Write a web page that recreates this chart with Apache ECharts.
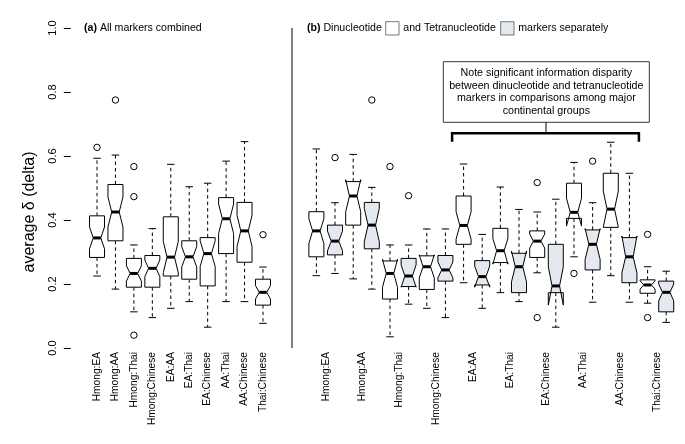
<!DOCTYPE html>
<html><head><meta charset="utf-8">
<script src="https://cdn.jsdelivr.net/npm/echarts@6/dist/echarts.min.js"></script>
<style>html,body{margin:0;padding:0;background:#fff}#c{width:685px;height:444px}</style>
</head><body><div id="c"></div>
<script>
// ---------------- DATA ----------------
const categories = ['Hmong:EA','Hmong:AA','Hmong:Thai','Hmong:Chinese','EA:AA','EA:Thai','EA:Chinese','AA:Thai','AA:Chinese','Thai:Chinese'];
const yTicks = [0, 0.2, 0.4, 0.6, 0.8, 1.0];
// stats per category: [min, q1, median, q3, max, notchLow, notchHigh]
const allStats = [
  [0.225, 0.283, 0.344, 0.413, 0.593, 0.310, 0.378],
  [0.184, 0.335, 0.425, 0.511, 0.603, 0.378, 0.472],
  [0.113, 0.190, 0.233, 0.280, 0.322, 0.209, 0.257],
  [0.095, 0.190, 0.249, 0.289, 0.373, 0.223, 0.275],
  [0.124, 0.225, 0.284, 0.410, 0.574, 0.235, 0.333],
  [0.145, 0.215, 0.285, 0.335, 0.504, 0.253, 0.317],
  [0.065, 0.194, 0.295, 0.345, 0.515, 0.255, 0.335],
  [0.145, 0.295, 0.404, 0.470, 0.584, 0.358, 0.450],
  [0.145, 0.268, 0.366, 0.455, 0.645, 0.317, 0.415],
  [0.077, 0.134, 0.174, 0.215, 0.253, 0.153, 0.195]
];
const allOutliers = [[0.627],[0.775],[0.567,0.473,0.040],[],[],[],[],[],[],[0.354]];

const diStats = [
  [0.226, 0.285, 0.366, 0.426, 0.622, 0.326, 0.404],
  [0.216, 0.384, 0.475, 0.520, 0.605, 0.426, 0.526],
  [0.035, 0.153, 0.233, 0.272, 0.322, 0.190, 0.277],
  [0.124, 0.183, 0.254, 0.288, 0.372, 0.219, 0.291],
  [0.204, 0.324, 0.383, 0.475, 0.575, 0.340, 0.426],
  [0.173, 0.267, 0.304, 0.374, 0.503, 0.262, 0.342],
  [0.235, 0.283, 0.334, 0.366, 0.425, 0.312, 0.356],
  [0.285, 0.405, 0.424, 0.515, 0.580, 0.381, 0.468],
  [0.226, 0.377, 0.434, 0.546, 0.643, 0.378, 0.490],
  [0.140, 0.171, 0.197, 0.213, 0.254, 0.184, 0.210]
];
const diOutliers = [[],[],[0.567],[],[],[],[0.517,0.095],[0.233],[],[0.355,0.095]];

const tetraStats = [
  [0.233, 0.291, 0.334, 0.384, 0.454, 0.304, 0.365],
  [0.184, 0.310, 0.384, 0.455, 0.502, 0.332, 0.436],
  [0.137, 0.192, 0.225, 0.280, 0.322, 0.190, 0.260],
  [0.095, 0.209, 0.244, 0.289, 0.372, 0.219, 0.269],
  [0.124, 0.197, 0.223, 0.273, 0.355, 0.190, 0.256],
  [0.145, 0.173, 0.254, 0.296, 0.433, 0.207, 0.303],
  [0.065, 0.173, 0.194, 0.324, 0.465, 0.134, 0.254],
  [0.143, 0.244, 0.324, 0.369, 0.454, 0.277, 0.373],
  [0.143, 0.204, 0.285, 0.345, 0.546, 0.235, 0.350],
  [0.080, 0.113, 0.174, 0.209, 0.240, 0.147, 0.200]
];
const tetraOutliers = [[0.595],[0.775],[0.476],[],[],[],[],[0.584],[],[]];

const noteText = 'Note significant information disparity\nbetween dinucleotide and tetranucleotide\nmarkers in comparisons among major\ncontinental groups';
const yTitle = 'average δ (delta)';

// ---------------- BUILD ----------------
const FONT = '"Liberation Sans", Arial, sans-serif';
const TETRA_FILL = '#e3e9ee';
const HALF_W = 7.5;

function toBoxData(stats){ return stats.map((s,i)=>[i].concat(s)); }
function toOutData(outs){ const d=[]; outs.forEach((arr,i)=>arr.forEach(v=>d.push([i,v]))); return d; }

function boxRender(offFrac, fill){
  return function(params, api){
    const cat = api.value(0);
    const band = api.size([1,0])[0];
    const cx = api.coord([cat, api.value(3)])[0] + offFrac*band;
    const Y = v => api.coord([cat, v])[1];
    const mn=api.value(1), q1=api.value(2), md=api.value(3), q3=api.value(4), mx=api.value(5), nlo=api.value(6), nhi=api.value(7);
    const w = HALF_W, nf = 0.5, sw = HALF_W*0.5;
    const dash = {stroke:'#000', lineWidth:1, lineDash:[3.5,3]};
    const solid = {stroke:'#000', lineWidth:1};
    const pts = [
      [cx-w,Y(q1)],[cx+w,Y(q1)],[cx+w,Y(nlo)],[cx+nf*w,Y(md)],[cx+w,Y(nhi)],
      [cx+w,Y(q3)],[cx-w,Y(q3)],[cx-w,Y(nhi)],[cx-nf*w,Y(md)],[cx-w,Y(nlo)]
    ];
    return {type:'group', children:[
      {type:'line', shape:{x1:cx,y1:Y(q1),x2:cx,y2:Y(mn)}, style:dash},
      {type:'line', shape:{x1:cx,y1:Y(q3),x2:cx,y2:Y(mx)}, style:dash},
      {type:'line', shape:{x1:cx-sw,y1:Y(mn),x2:cx+sw,y2:Y(mn)}, style:solid},
      {type:'line', shape:{x1:cx-sw,y1:Y(mx),x2:cx+sw,y2:Y(mx)}, style:solid},
      {type:'polygon', shape:{points:pts}, style:{fill:fill, stroke:'#000', lineWidth:1}},
      {type:'line', shape:{x1:cx-nf*w,y1:Y(md),x2:cx+nf*w,y2:Y(md)}, style:{stroke:'#000', lineWidth:3}}
    ]};
  };
}
function outRender(offFrac){
  return function(params, api){
    const cat = api.value(0);
    const band = api.size([1,0])[0];
    const p = api.coord([cat, api.value(1)]);
    return {type:'circle', shape:{cx:p[0]+offFrac*band, cy:p[1], r:3.2}, style:{fill:'none', stroke:'#000', lineWidth:1}};
  };
}

const OFF = 0.253;
const chart = echarts.init(document.getElementById('c'), null, {renderer:'canvas'});
const xBase = {type:'category', data:categories, boundaryGap:true,
  axisLine:{show:false}, axisTick:{show:false}, splitLine:{show:false},
  axisLabel:{rotate:90, fontSize:10.2, fontFamily:FONT, color:'#000', margin:4, interval:0}};
const option = {
  animation:false,
  textStyle:{fontFamily:FONT},
  grid:[
    {left:87.8, top:28, width:184.4, height:320},
    {left:307.3, top:28, width:368, height:320}
  ],
  xAxis:[Object.assign({gridIndex:0}, xBase), Object.assign({gridIndex:1}, xBase)],
  yAxis:[
    {type:'value', gridIndex:0, min:0, max:1, interval:0.2, offset:17,
     axisLine:{show:false}, splitLine:{show:false},
     axisTick:{show:true, length:7, lineStyle:{color:'#000'}},
     axisLabel:{rotate:90, fontSize:11, fontFamily:FONT, color:'#000', margin:12,
       formatter:v=>yTicks.indexOf(+v.toFixed(1))>=0 ? v.toFixed(1) : ''}},
    {type:'value', gridIndex:1, min:0, max:1, show:false}
  ],
  series:[
    {type:'custom', xAxisIndex:0, yAxisIndex:0, renderItem:boxRender(0,'#fff'), data:toBoxData(allStats), encode:{x:0,y:[1,2,3,4,5]}},
    {type:'custom', xAxisIndex:0, yAxisIndex:0, renderItem:outRender(0), data:toOutData(allOutliers), encode:{x:0,y:1}},
    {type:'custom', xAxisIndex:1, yAxisIndex:1, renderItem:boxRender(-OFF,'#fff'), data:toBoxData(diStats), encode:{x:0,y:[1,2,3,4,5]}},
    {type:'custom', xAxisIndex:1, yAxisIndex:1, renderItem:outRender(-OFF), data:toOutData(diOutliers), encode:{x:0,y:1}},
    {type:'custom', xAxisIndex:1, yAxisIndex:1, renderItem:boxRender(OFF,TETRA_FILL), data:toBoxData(tetraStats), encode:{x:0,y:[1,2,3,4,5]}},
    {type:'custom', xAxisIndex:1, yAxisIndex:1, renderItem:outRender(OFF), data:toOutData(tetraOutliers), encode:{x:0,y:1}}
  ]
};
chart.setOption(option);

// annotations positioned from the axes
const band = 368/10;
const leftX = chart.convertToPixel({xAxisIndex:1}, 4) - OFF*band - HALF_W - 4;
const rightX = chart.convertToPixel({xAxisIndex:1}, 8) + OFF*band + HALF_W + 2;
const sepTop = chart.convertToPixel({yAxisIndex:0}, 1);
const sepBot = chart.convertToPixel({yAxisIndex:0}, 0);
const midX = (leftX + rightX)/2 + 0.5;
const txt = (x,y,text,extra)=>Object.assign({type:'text', x:x, y:y, style:Object.assign({text:text, fill:'#000', font:'10.6px '+FONT, textVerticalAlign:'middle'}, extra||{})});

chart.setOption({graphic:[
  {type:'line', shape:{x1:292, y1:sepTop, x2:292, y2:sepBot}, style:{stroke:'#000', lineWidth:1}},
  {type:'text', x:30, y:212, rotation:Math.PI/2, style:{text:yTitle, fill:'#000', font:'16px '+FONT, textAlign:'center', textVerticalAlign:'middle'}},
  {type:'text', x:84, y:28, style:{text:'{b|(a)} All markers combined', fill:'#000', font:'10.6px '+FONT, textVerticalAlign:'middle', rich:{b:{fontWeight:'bold', fontSize:10.6, fontFamily:FONT}}}},
  {type:'text', x:307, y:28, style:{text:'{b|(b)} Dinucleotide', fill:'#000', font:'10.6px '+FONT, textVerticalAlign:'middle', rich:{b:{fontWeight:'bold', fontSize:10.6, fontFamily:FONT}}}},
  {type:'rect', shape:{x:385.7, y:21.7, width:13.3, height:13.3}, style:{fill:'#fff', stroke:'#555', lineWidth:0.8}},
  txt(403.3, 28, 'and Tetranucleotide'),
  {type:'rect', shape:{x:500.7, y:21.7, width:13.3, height:13.3}, style:{fill:TETRA_FILL, stroke:'#555', lineWidth:0.8}},
  txt(518.3, 28, 'markers separately'),
  {type:'rect', shape:{x:443.3, y:61.7, width:206, height:60.6}, style:{fill:'#fff', stroke:'#000', lineWidth:0.8}},
  {type:'text', x:546.3, y:92, style:{text:noteText, fill:'#000', font:'10.7px '+FONT, textAlign:'center', textVerticalAlign:'middle', lineHeight:12.8}},
  {type:'line', shape:{x1:midX, y1:122.3, x2:midX, y2:133.3}, style:{stroke:'#000', lineWidth:1}},
  {type:'polyline', shape:{points:[[leftX,141.7],[leftX,133.3],[rightX,133.3],[rightX,141.7]]}, style:{stroke:'#000', lineWidth:2.5, fill:'none'}}
]});
</script></body></html>
